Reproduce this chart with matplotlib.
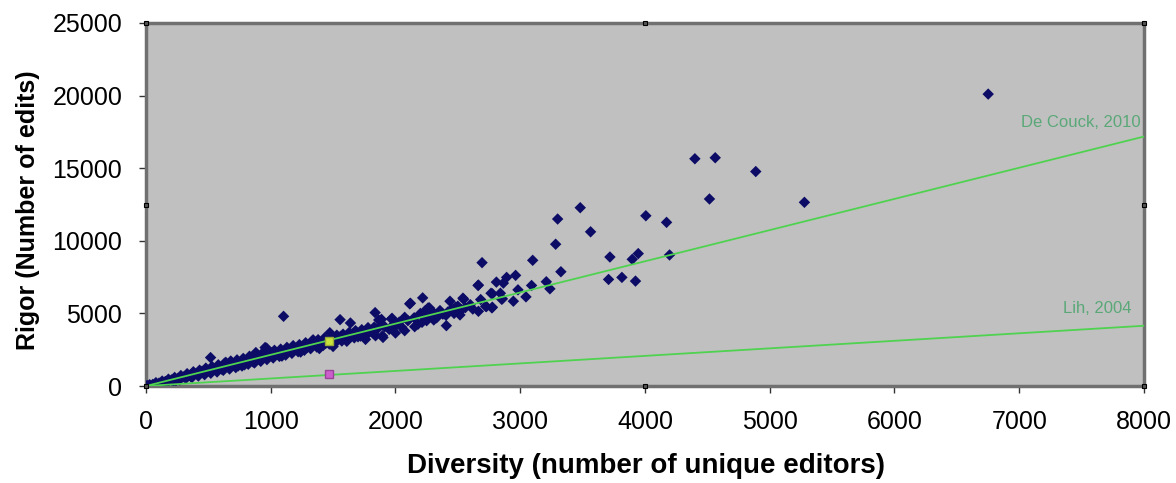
import matplotlib.pyplot as plt

plt.rcParams['font.family'] = ['Liberation Sans', 'DejaVu Sans']

# articles: number of unique editors vs number of edits
diversity = [
    # dense band along the trend
    30, 80, 130, 180, 230, 280, 330, 380, 430, 480, 530, 580, 630, 680, 730,
    780, 830, 880, 930, 980, 1030, 1080, 1130, 1180, 1230, 1280, 1330, 1380,
    1430, 1530, 1580, 1630, 1680, 1730, 1780, 1830, 1880,
    55, 105, 155, 205, 255, 305, 355, 405, 455, 505, 555, 605, 655, 705, 755,
    805, 855, 905, 955, 1005, 1055, 1105, 1155, 1205, 1255, 1305, 1355, 1405,
    1455, 1505, 1555, 1605, 1655, 1705, 1755, 1805, 1855,
    70, 120, 170, 220, 270, 320, 370, 420, 470, 520, 570, 620, 670, 720, 770,
    820, 870, 920, 970, 1020, 1070, 1120, 1170, 1220, 1270, 1320, 1370, 1420,
    1470, 1520, 1570, 1620, 1670, 1720, 1770, 1820,
    5, 15, 240, 360, 450, 610, 740, 790, 860, 1010, 1090, 1240, 1290, 1390,
    1440, 1500, 1610, 1700, 1760, 1840, 640, 950, 1150, 1340, 1560, 1660,
    # cluster 1900-2700
    1950, 1990, 2000, 2000, 2030, 2050, 2100, 2150, 2180, 2200, 2230, 2240,
    2250, 2280, 2300, 2330, 2380, 2420, 2450, 2470, 2500, 2530, 2560, 2600,
    2620,
    # scattered points
    6751, 4400, 4563, 4888, 4517, 5278, 3481, 3300, 4007, 4173, 3946, 3898,
    4197, 3815, 3924, 3564, 3284, 3100, 3326, 3719, 3708, 3209, 3238, 3091,
    2963, 2891, 2809, 2865, 2982, 3046, 2945, 2857, 2777, 2777, 2694, 2665,
    2766, 2683, 2723, 2665, 2773, 2547, 2504, 2517, 2437, 2405, 2480, 2218,
    2120, 2272, 2357, 2307, 2408, 2213, 2154, 2074, 2074, 1973, 1975, 1914,
    1888, 1896, 1103, 1556, 1639, 1837, 1866, 1474, 967, 1900, 518, 881, 955,
    1968, 2114, 2262, 2541, 2662, 2729, 2841, 2851,
]
rigor = [
    90, 230, 340, 470, 590, 720, 850, 980, 1090, 1230, 1340, 1460, 1570, 1720,
    1800, 1900, 2050, 2120, 2230, 2330, 2460, 2540, 2660, 2780, 2850, 2980,
    3080, 3190, 3300, 3500, 3570, 3700, 3810, 3880, 4020, 4060, 4180,
    110, 200, 310, 420, 520, 630, 740, 850, 950, 1060, 1170, 1280, 1370, 1490,
    1600, 1700, 1800, 1920, 2020, 2130, 2230, 2340, 2440, 2560, 2660, 2770,
    2870, 2980, 3090, 3190, 3300, 3400, 3520, 3610, 3730, 3830, 3940,
    100, 180, 260, 350, 430, 520, 600, 690, 780, 880, 970, 1080, 1170, 1270,
    1380, 1500, 1590, 1700, 1820, 1930, 2040, 2130, 2250, 2360, 2460, 2570,
    2680, 2790, 2890, 3000, 3100, 3220, 3320, 3440, 3530, 3650,
    10, 30, 380, 640, 1010, 1150, 1390, 1460, 1650, 2280, 2060, 2340, 2640,
    2580, 2930, 2720, 3080, 3390, 3210, 3460, 1630, 2360, 2520, 3180, 3420,
    3600,
    3900, 4050, 3650, 4300, 4400, 4050, 4500, 4700, 4250, 5000, 4800, 5200,
    4500, 4950, 5100, 4700, 4950, 5100, 5300, 5000, 5500, 5250, 5400, 5600,
    5300,
    20103, 15650, 15720, 14770, 12880, 12650, 12280, 11500, 11725, 11270,
    9120, 8725, 9025, 7480, 7225, 10620, 9765, 8656, 7870, 8885, 7340, 7180,
    6695, 6925, 7620, 7480, 7155, 7085, 6625, 6140, 5840, 6005, 6350, 5425,
    8495, 6950, 6390, 5955, 5490, 5145, 5380, 5975, 5195, 4895, 5840, 4870,
    5425, 6070, 5700, 5380, 5195, 4550, 4155, 4385, 4085, 4730, 3810, 4660,
    4155, 4085, 4590, 3460, 4800, 4570, 4340, 5055, 4550, 3670, 2610, 3345,
    1960, 2305, 2650, 4620, 5660, 5380, 6050, 6925, 5470, 6390, 5975,
]

# published reference points and fitted trend lines
ref_x = [1466, 1466]
ref_y = [3116, 830]
line_x = [0, 8000]
decouck_y = [0, 17180]
lih_y = [0, 4150]

fig = plt.figure(figsize=(11.76, 4.83), dpi=100)
ax = fig.add_axes([0.1241, 0.2008, 0.8487, 0.7516])
ax.set_facecolor('#c0c0c0')

ax.scatter(diversity, rigor, marker='D', s=34, color='#0c0c66',
           edgecolors='none', zorder=3)
ax.plot(line_x, decouck_y, color='#4fd24f', lw=1.3, zorder=4)
ax.plot(line_x, lih_y, color='#4fd24f', lw=1.3, zorder=4)
ax.plot(ref_x[0], ref_y[0], 's', ms=6, color='#c8e03c', mec='#9aa83a', zorder=5)
ax.plot(ref_x[1], ref_y[1], 's', ms=6, color='#cc5fcc', mec='#994499', zorder=5)

ax.text(7975, 18150, 'De Couck, 2010', ha='right', va='center',
        fontsize=12, color='#5aa878')
ax.text(7900, 5330, 'Lih, 2004', ha='right', va='center',
        fontsize=12, color='#5aa878')

ax.set_xlim(0, 8000)
ax.set_ylim(0, 25000)
ax.set_xticks(range(0, 8001, 1000))
ax.set_yticks(range(0, 25001, 5000))
ax.tick_params(labelsize=18, length=5, width=1, pad=12, color='#333333')

for sp in ax.spines.values():
    sp.set_linestyle((0, (1, 1)))
    sp.set_linewidth(2.5)
    sp.set_color('#707070')

# small selection handles on the frame
hx = [0, 0.5, 1, 1, 1, 0.5, 0, 0]
hy = [1, 1, 1, 0.5, 0, 0, 0, 0.5]
ax.plot(hx, hy, 's', ms=3.5, mfc='#555555', mec='black', mew=0.8,
        ls='none', transform=ax.transAxes, clip_on=False, zorder=6)

fig.text(0.549, 0.035, 'Diversity (number of unique editors)',
         ha='center', va='center', fontsize=20, fontweight='bold')
fig.text(0.024, 0.565, 'Rigor (Number of edits)', rotation=90,
         ha='center', va='center', fontsize=18, fontweight='bold')

fig.savefig('out.png', dpi=100)
